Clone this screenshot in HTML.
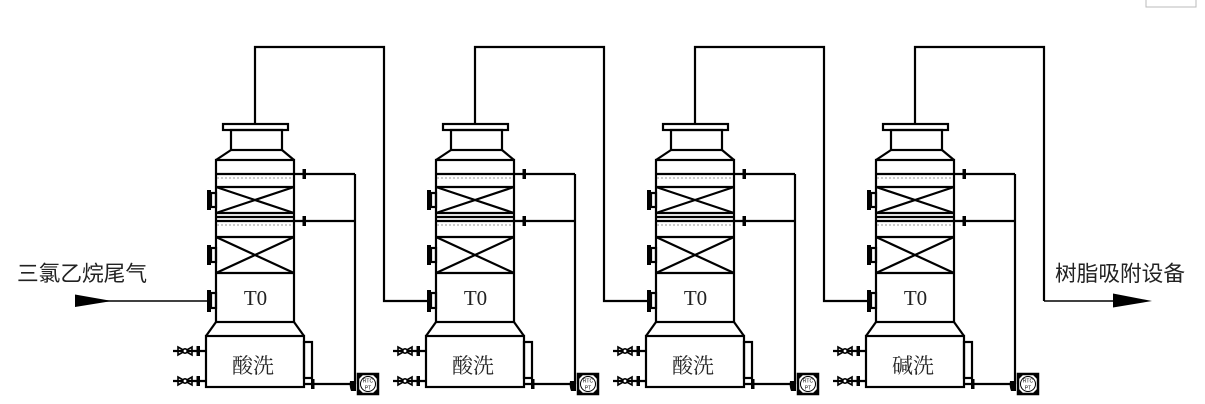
<!DOCTYPE html>
<html><head><meta charset="utf-8"><style>
html,body{margin:0;padding:0;background:#fff;}
svg{display:block;}
.cn{font-family:"Liberation Sans","Noto Sans CJK SC",sans-serif;fill:#222;}
.cz{font-family:"Liberation Serif","Noto Serif CJK SC",serif;fill:#222;}
.cs{font-family:"Liberation Serif","Noto Serif CJK SC",serif;fill:#222;}
</style></head><body>
<svg width="1205" height="404" viewBox="0 0 1205 404" xmlns="http://www.w3.org/2000/svg">
<rect x="0" y="0" width="1205" height="404" fill="#fff"/>
<defs>
<g id="tw">
 <g fill="none" stroke="#000" stroke-width="2.2">
  <rect x="223" y="124" width="65" height="6"/>
  <rect x="231" y="130" width="51" height="20"/>
  <path d="M231 150 L216 160 M282 150 L294 160"/>
  <rect x="216" y="160" width="78" height="162"/>
  <path d="M216 174H355 M216 187H294 M216 213H294 M216 217H294 M216 221H355 M216 237H294 M216 273H294"/>
  <path d="M216 187L294 213 M216 213L294 187 M216 237L294 273 M216 273L294 237"/>
  <path d="M216 322L206 336 M294 322L304 336"/>
  <rect x="206" y="336" width="98" height="51"/>
  <rect x="304" y="342" width="8" height="36"/>
  <path d="M304 384H351 M355 174V384"/>
  <path d="M173 351H206 M173 381H206"/>
  <rect x="211" y="193" width="5" height="14"/>
  <rect x="211" y="248" width="5" height="14"/>
  <rect x="211" y="293" width="5" height="15"/>
 </g>
 <path d="M217 178H293 M217 225H293" stroke="#aaa" stroke-width="1.2" stroke-dasharray="2 2" fill="none"/>
 <g fill="#000">
  <rect x="207" y="190" width="4" height="20"/>
  <rect x="207" y="245" width="4" height="20"/>
  <rect x="207" y="290" width="4" height="22"/>
  <rect x="302.5" y="169" width="3.5" height="10"/>
  <rect x="302.5" y="216" width="3.5" height="10"/>
  <rect x="311" y="379" width="3.5" height="10"/>
  <rect x="196.5" y="346" width="3.5" height="10"/>
  <rect x="196.5" y="376" width="3.5" height="10"/>
  <path d="M350 381 Q349 386 351 391 L356 391 L356 381 Z"/>
 </g>
 <g fill="none" stroke="#000" stroke-width="1.6">
  <path d="M178 347 L192 355 L192 347 L178 355 Z"/>
  <path d="M178 377 L192 385 L192 377 L178 385 Z"/>
  <circle cx="185" cy="351" r="2.2" fill="#fff"/>
  <circle cx="185" cy="381" r="2.2" fill="#fff"/>
 </g>
 <rect x="358" y="374" width="20" height="20" fill="#fff" stroke="#000" stroke-width="2.5"/>
 <path d="M359 375h4l-4 4z M377 375h-4l4 4z M359 393h4l-4-4z M377 393h-4l4-4z" fill="#000"/>
 <circle cx="368" cy="384" r="7.5" fill="none" stroke="#000" stroke-width="1"/>
 <text x="368" y="382.5" font-size="5" text-anchor="middle" font-family="Liberation Sans, sans-serif" fill="#000">RTC</text>
 <text x="368" y="389.5" font-size="5" text-anchor="middle" font-family="Liberation Sans, sans-serif" fill="#000">PT</text>
</g>
</defs>
<use href="#tw" x="0"/>
<use href="#tw" x="220"/>
<use href="#tw" x="440"/>
<use href="#tw" x="660"/>

<g fill="none" stroke="#000" stroke-width="2.2">
 <path d="M255 124V47H384V301H428"/>
 <path d="M475 124V47H604V301H648"/>
 <path d="M695 124V47H824V301H868"/>
 <path d="M915 124V47H1044V301"/>
</g>
<path d="M75 301H208 M1044 301H1114" stroke="#000" stroke-width="1.4" fill="none"/>
<polygon points="75,294.5 75,307 112,301" fill="#000"/>
<polygon points="1113,293.5 1113,307.5 1152,301" fill="#000"/>

<rect x="1146" y="-2" width="50" height="9" fill="none" stroke="#bbb" stroke-width="1"/>

<text class="cn" x="17" y="281" font-size="21.5" textLength="130" lengthAdjust="spacingAndGlyphs">三氯乙烷尾气</text>
<text class="cn" x="1055" y="281" font-size="21.5" textLength="130" lengthAdjust="spacingAndGlyphs">树脂吸附设备</text>

<g class="cs" font-size="21" text-anchor="middle">
 <text x="255.5" y="305">T0</text>
 <text x="475.5" y="305">T0</text>
 <text x="695.5" y="305">T0</text>
 <text x="915.5" y="305">T0</text>
</g>
<g class="cz" font-size="21" text-anchor="middle">
 <text x="253" y="373">酸洗</text>
 <text x="473" y="373">酸洗</text>
 <text x="693" y="373">酸洗</text>
 <text x="913" y="373">碱洗</text>
</g>
</svg>
</body></html>
